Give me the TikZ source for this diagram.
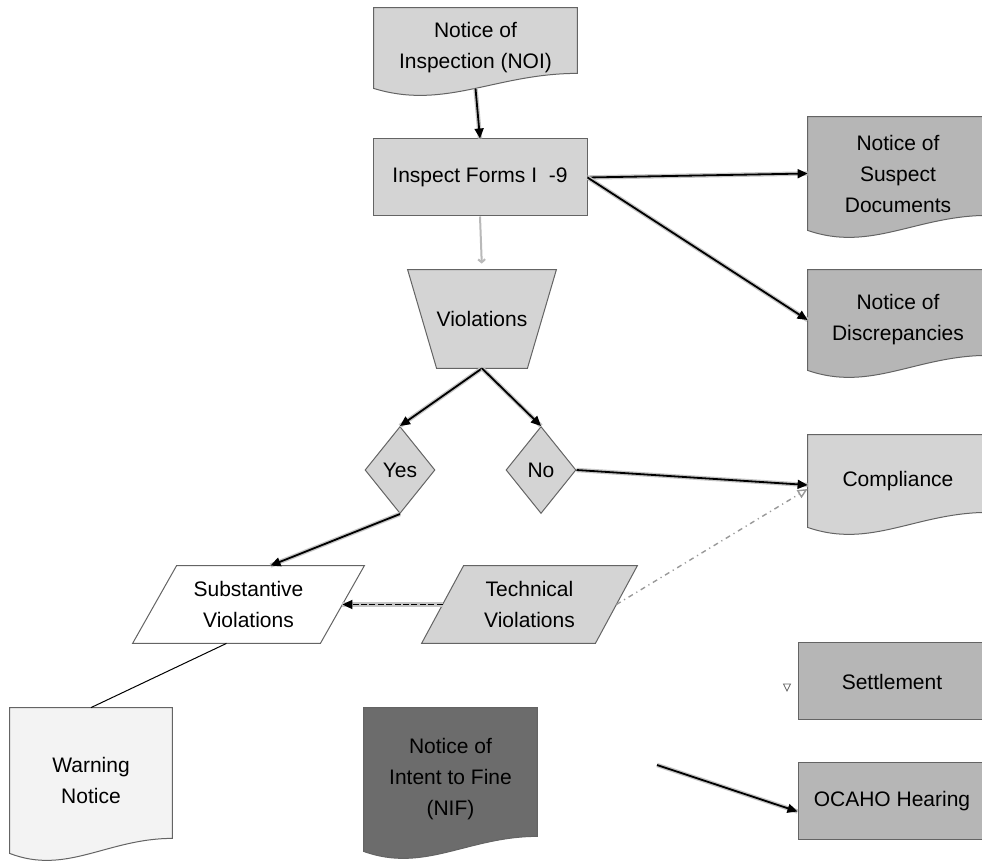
\documentclass[tikz,border=0pt]{standalone}
\usepackage{fontspec}
\setmainfont{Liberation Sans}
\usepackage{xcolor}
\definecolor{Fill1}{RGB}{212,212,212}
\definecolor{Fill2}{RGB}{182,182,182}
\definecolor{Fill3}{RGB}{108,108,108}
\definecolor{Fill4}{RGB}{243,243,243}
\definecolor{Line1}{RGB}{100,100,100}
\usepackage{tikz}
\usetikzlibrary{shapes.geometric}
\usetikzlibrary{arrows.meta}
\usetikzlibrary{calc}
\usetikzlibrary{backgrounds}
\tikzstyle{Node}=[rectangle,align=center,inner sep=0pt,
font=\fontsize{10.5}{15.5}\selectfont]
\tikzstyle{Box}=[Node,draw=Line1,line width=0.5pt]
\tikzstyle{Shape}=[draw=Line1,line width=0.5pt]
\tikzstyle{Decision}=[Node,diamond,draw=Line1,line width=0.5pt,
fill=Fill1,minimum width=35pt,minimum height=43.5pt]
\tikzstyle{Edge}=[draw=black,line width=0.9pt,
-{Triangle[length=5pt,width=4.5pt]},
preaction={draw=gray!45,line width=2.2pt,arrows=-}]
\tikzstyle{EdgeDash}=[Edge,dash pattern=on 3pt off 1.2pt]
\tikzstyle{EdgeDot}=[draw=gray!80,line width=0.7pt,
dash pattern=on 2.5pt off 2pt on 0.6pt off 2pt,
-{Triangle[open,length=5pt,width=4.5pt]}]
\tikzstyle{EdgeThin}=[draw=black,line width=0.5pt]
\tikzstyle{EdgeGray}=[draw=gray!55,line width=1pt,
-{Straight Barb[length=1.5pt,width=3.5pt]},shorten >=3pt]
% document outline with a wavy bottom
\newcommand{\DocPath}[1]{(#1.north west) -- (#1.north east)
  -- ([yshift=7.5pt]#1.south east)
  .. controls ($(#1.south west)!0.6!(#1.south east)+(0pt,7.5pt)$)
  and ($(#1.south west)!0.35!(#1.south east)+(0pt,-11pt)$)
  .. (#1.south west) -- cycle}
% parallelogram, top pushed to the right
\newcommand{\ParaPath}[2]{([xshift=#2]#1.north west)
  -- ([xshift=#2]#1.north east) -- ([xshift=-#2]#1.south east)
  -- ([xshift=-#2]#1.south west) -- cycle}
% trapezoid, wide at the top
\newcommand{\TrapPath}[2]{([xshift=-#2]#1.north west)
  -- ([xshift=#2]#1.north east) -- ([xshift=-#2]#1.south east)
  -- ([xshift=#2]#1.south west) -- cycle}

\begin{document}
\begin{tikzpicture}[x=0.5pt,y=-0.5pt]
    \useasboundingbox(0,0)rectangle(982,861);
    \clip(0,0)rectangle(982,861);
        \node[Node,minimum width=101.5pt,minimum height=40pt](noi)
            at(475.5,48){Notice of\\Inspection (NOI)};
        \node[Box,fill=Fill1,minimum width=107pt,minimum height=38.5pt]
            (insp)at(480,177.5){Inspect Forms I\ \ -9};
        \node[Node,minimum width=90pt,minimum height=56.5pt](sus)
            at(898,173.5){Notice of\\Suspect\\Documents};
        \node[Node,minimum width=90pt,minimum height=50pt](disc)
            at(898,320){Notice of\\Discrepancies};
        \node[Node,minimum width=59.5pt,minimum height=49pt](viol)
            at(482,319){Violations};
        \node[Decision](yes)at(400,470){Yes};
        \node[Decision](no)at(541,470){No};
        \node[Node,minimum width=90pt,minimum height=46pt](comp)
            at(898,481){Compliance};
        \node[Node,minimum width=93.5pt,minimum height=38.5pt](sub)
            at(248.5,604.5){Substantive\\Violations};
        \node[Node,minimum width=86.5pt,minimum height=38.5pt](tech)
            at(529.5,604.5){Technical\\Violations};
        \node[Box,fill=Fill2,minimum width=94pt,minimum height=38.5pt]
            (settle)at(892,681.5){Settlement};
        \node[Box,fill=Fill2,minimum width=94pt,minimum height=38.5pt]
            (ocaho)at(892,801.5){OCAHO Hearing};
        \node[Node,minimum width=81pt,minimum height=72.5pt](warn)
            at(91,780.5){Warning\\Notice};
        \node[Node,minimum width=86.5pt,minimum height=71.5pt](nif)
            at(450.5,779.5){Notice of\\Intent to Fine\\(NIF)};
        \coordinate(tri)at(787,687);
        \coordinate(hearfrom)at(657,765);
    \begin{pgfonlayer}{background}
        \fill[white](0,0)rectangle(982,861);
        \clip(0,0)rectangle(982,861);
        \path[Shape,fill=Fill1]\DocPath{noi};
        \path[Shape,fill=Fill2]\DocPath{sus};
        \path[Shape,fill=Fill2]\DocPath{disc};
        \path[Shape,fill=Fill1]\DocPath{comp};
        \path[Shape,fill=Fill4]\DocPath{warn};
        \path[Shape,fill=Fill3]\DocPath{nif};
        \path[Shape,fill=Fill1]\TrapPath{viol}{7.25pt};
        \path[Shape,fill=white]\ParaPath{sub}{11pt};
        \path[Shape,fill=Fill1]\ParaPath{tech}{10.5pt};
    \end{pgfonlayer}
        \draw[Edge](noi.south)--(insp.north);
        \draw[EdgeGray](insp.south)--(viol.north);
        \draw[Edge](insp.east)--(sus.west);
        \draw[Edge](insp.east)--(disc.west);
        \draw[Edge](viol.south)--(yes.north);
        \draw[Edge](viol.south)--(no.north);
        \draw[Edge](no.east)--([yshift=-2pt]comp.west);
        \draw[Edge](yes.south)--([xshift=11pt]sub.north);
        \draw[EdgeDash](tech.west)--(sub.east);
        \draw[EdgeDot](tech.east)--([yshift=-4pt]comp.west);
        \draw[EdgeThin]([xshift=-11pt]sub.south)--(warn.north);
        \draw[Edge](hearfrom)--([yshift=-5pt]ocaho.west);
        \draw[draw=Line1,line width=0.4pt](tri)+(-3.5,-3)--+(3.5,-3)
            --+(0,4)--cycle;
    \end{tikzpicture}
\end{document}
